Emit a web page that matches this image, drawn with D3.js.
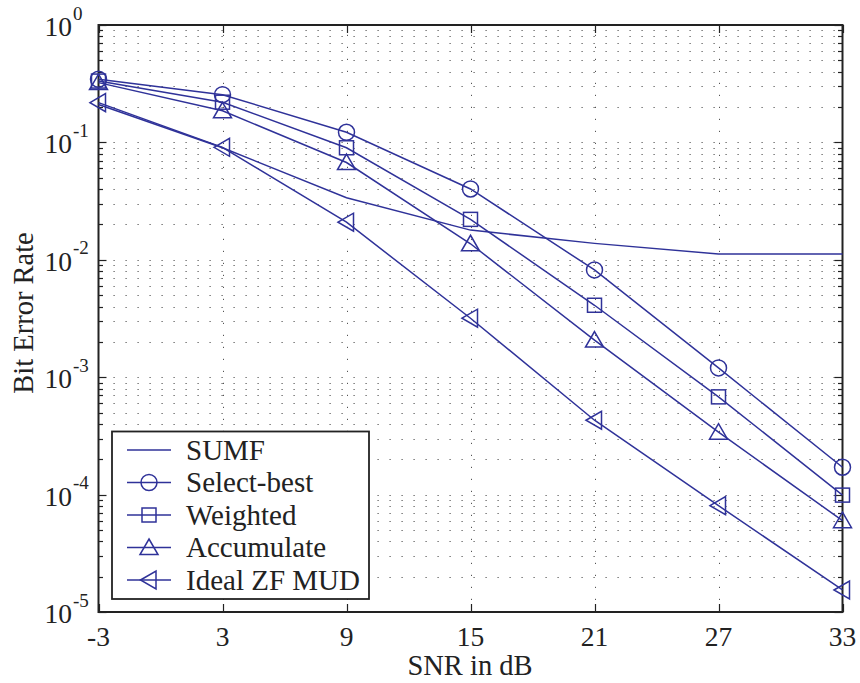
<!DOCTYPE html>
<html><head><meta charset="utf-8">
<script src="https://cdn.jsdelivr.net/npm/d3@7"></script>
<style>body{margin:0;background:#fff}svg{display:block}text{font-family:"Liberation Serif","Times New Roman",serif;fill:#222}</style>
</head><body>
<script>
const snr = [-3, 3, 9, 15, 21, 27, 33];
const sumf = [0.21, 0.090, 0.0338, 0.0179, 0.0138, 0.0112, 0.0112];
const selectBest = [0.345, 0.255, 0.122, 0.0401, 0.0082, 0.0012, 1.71e-4];
const weighted = [0.333, 0.220, 0.090, 0.0221, 0.0041, 6.8e-4, 9.9e-5];
const accumulate = [0.323, 0.186, 0.0674, 0.0137, 0.00207, 3.4e-4, 6.0e-5];
const idealZF = [0.218, 0.0908, 0.0209, 0.00318, 4.3e-4, 8.05e-5, 1.54e-5];
const seriesNames = ["SUMF", "Select-best", "Weighted", "Accumulate", "Ideal ZF MUD"];
const seriesMarkers = ["none", "circle", "square", "triangleUp", "triangleLeft"];
const xTicks = [-3, 3, 9, 15, 21, 27, 33];
const yExponents = [0, -1, -2, -3, -4, -5];

const W = 860, H = 683;
const L = 98.5, R = 842.5, T = 25, B = 612;
const color = "#2f3299";
const svg = d3.select("body").append("svg").attr("width", W).attr("height", H);

const x = d3.scaleLinear().domain([-3, 33]).range([L, R]);
const y = d3.scaleLog().domain([1e-5, 1]).range([B, T]);

// grid
const minorVals = [];
for (let e = -5; e < 0; e++) for (let k = 1; k <= 9; k++) minorVals.push(k * Math.pow(10, e));
minorVals.push(1);
const grid = svg.append("g").attr("stroke", "#555").attr("stroke-width", 1).attr("stroke-dasharray", "1.2,10.8");
grid.selectAll("line.h").data(minorVals.filter(v => v < 1 && v > 1e-5)).join("line")
  .attr("x1", L + 3).attr("x2", R).attr("y1", d => Math.round(y(d)) + 0.5).attr("y2", d => Math.round(y(d)) + 0.5);
grid.selectAll("line.v").data(xTicks.slice(1, -1)).join("line")
  .attr("y1", B).attr("y2", T).attr("x1", d => Math.round(x(d)) + 0.5).attr("x2", d => Math.round(x(d)) + 0.5);

// ticks
const tk = svg.append("g").attr("stroke", "#222").attr("stroke-width", 1.2);
minorVals.forEach(v => {
  const isMajor = Math.abs(Math.log10(v) - Math.round(Math.log10(v))) < 1e-9;
  const len = isMajor ? 8 : 4.5;
  const yy = Math.round(y(v)) + 0.5;
  tk.append("line").attr("x1", L).attr("x2", L + len).attr("y1", yy).attr("y2", yy);
  tk.append("line").attr("x1", R).attr("x2", R - len).attr("y1", yy).attr("y2", yy);
});
xTicks.forEach(v => {
  const xx = Math.round(x(v)) + 0.5;
  tk.append("line").attr("x1", xx).attr("x2", xx).attr("y1", B).attr("y2", B - 8);
  tk.append("line").attr("x1", xx).attr("x2", xx).attr("y1", T).attr("y2", T + 8);
});

// box
svg.append("rect").attr("x", L).attr("y", T).attr("width", R - L).attr("height", B - T)
  .attr("fill", "none").attr("stroke", "#222").attr("stroke-width", 2);

// tick labels
svg.append("g").selectAll("text").data(xTicks).join("text")
  .attr("x", d => x(d)).attr("y", 646).attr("text-anchor", "middle")
  .attr("font-size", 27.5).text(d => d);
const yl = svg.append("g");
yExponents.forEach(e => {
  const yy = y(Math.pow(10, e));
  yl.append("text").attr("x", 72).attr("y", yy + 11).attr("text-anchor", "end").attr("font-size", 27.5).text("10");
  yl.append("text").attr("x", 73).attr("y", yy - 5.5).attr("font-size", 19).text(e);
});

// axis labels
svg.append("text").attr("x", 470).attr("y", 675).attr("text-anchor", "middle").attr("font-size", 28.5).text("SNR in dB");
svg.append("text").attr("transform", "translate(33,313) rotate(-90)").attr("text-anchor", "middle").attr("font-size", 28.5).text("Bit Error Rate");

// markers
function drawMarker(g, type, cx, cy) {
  if (type === "circle") g.append("circle").attr("cx", cx).attr("cy", cy).attr("r", 8);
  else if (type === "square") g.append("rect").attr("x", cx - 7).attr("y", cy - 7).attr("width", 14).attr("height", 14);
  else if (type === "triangleUp") g.append("path").attr("d", `M${cx},${cy - 8.5}L${cx + 9},${cy + 7}L${cx - 9},${cy + 7}Z`);
  else if (type === "triangleLeft") g.append("path").attr("d", `M${cx - 8.5},${cy}L${cx + 7},${cy - 9}L${cx + 7},${cy + 9}Z`);
}

const allSeries = [sumf, selectBest, weighted, accumulate, idealZF];
const line = d3.line().x((d, i) => x(snr[i])).y(d => y(d));
const plot = svg.append("g").attr("fill", "none").attr("stroke", color).attr("stroke-width", 1.5);
allSeries.forEach((vals, si) => {
  plot.append("path").attr("d", line(vals));
  if (seriesMarkers[si] !== "none") vals.forEach((v, i) => drawMarker(plot, seriesMarkers[si], x(snr[i]), y(v)));
});

// legend
const lg = svg.append("g");
lg.append("rect").attr("x", 112).attr("y", 431.5).attr("width", 257).attr("height", 167.5)
  .attr("fill", "#fff").attr("stroke", "#222").attr("stroke-width", 1.8);
seriesNames.forEach((name, i) => {
  const ly = 450 + i * 32.5;
  const g = lg.append("g").attr("fill", "none").attr("stroke", color).attr("stroke-width", 1.5);
  g.append("line").attr("x1", 127).attr("x2", 171).attr("y1", ly).attr("y2", ly);
  if (seriesMarkers[i] !== "none") drawMarker(g, seriesMarkers[i], 149, ly);
  lg.append("text").attr("x", 186).attr("y", ly + 9.5).attr("font-size", 29).text(name);
});
</script>
</body></html>
